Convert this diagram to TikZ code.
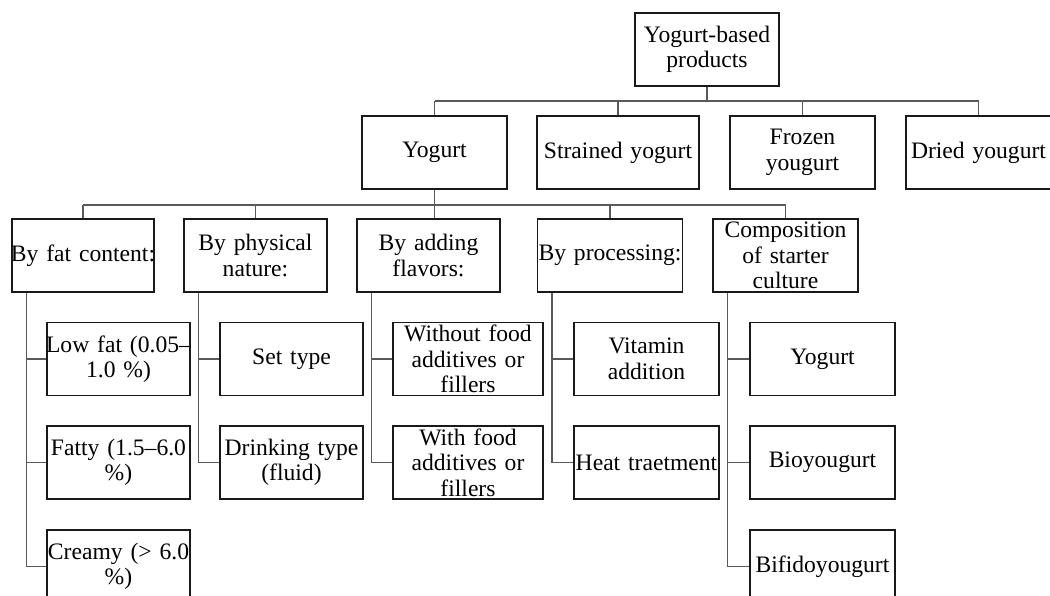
\documentclass[tikz,border=0pt]{standalone}
\usepackage{fontspec}
\setmainfont{Liberation Serif}
\newcommand\cln[1]{\makebox[\linewidth]{#1}}
\tikzset{
  box/.style={draw=black!90, line width=1.1pt, inner sep=0pt, minimum height=73pt,
    align=center, text width=#1pt, font=\fontsize{23.6}{25.5}\selectfont},
  box/.default=145,
  conn/.style={draw=black!65, line width=1.4pt},
}
\begin{document}
\begin{tikzpicture}[x=1pt,y=-1pt]
\useasboundingbox (0,0) rectangle (1050,596);
\clip (0,0) rectangle (1050,596);
% level 0
\node[box=144] (root) at (707,49.5) {\cln{Yogurt-based}\\\cln{products}};
% level 1
\node[box=145] (yog) at (434.5,152.5) {\cln{Yogurt}};
\node[box=162] (str) at (618,152.5) {\cln{Strained yogurt}};
\node[box=145] (frz) at (802.5,152.5) {\cln{Frozen}\\\cln{yougurt}};
\node[box=145] (dry) at (978.5,152.5) {\cln{Dried yougurt}};
% level 2
\node[box=142] (fat) at (83,255.5) {\cln{By fat content:}};
\node[box=143] (phy) at (255.5,255.5) {\cln{By physical}\\\cln{nature:}};
\node[box=143] (flv) at (428.5,255.5) {\cln{By adding}\\\cln{flavors:}};
\node[box=145] (prc) at (610,255.5) {\cln{By processing:}};
\node[box=145] (cmp) at (785.5,255.5) {\cln{Composition}\\\cln{of starter}\\\cln{culture}};
% leaves
\node[box=143] (lf) at (118.5,359) {\cln{Low fat (0.05–}\\\cln{1.0 \%)}};
\node[box=143] (fa) at (118.5,462.5) {\cln{Fatty (1.5–6.0}\\\cln{\%)}};
\node[box=143] (cr) at (118.5,566.5) {\cln{Creamy (> 6.0}\\\cln{\%)}};
\node[box=143] (st) at (291.5,359) {\cln{Set type}};
\node[box=143] (dk) at (291.5,462.5) {\cln{Drinking type}\\\cln{(fluid)}};
\node[box=150] (wo) at (468,359) {\cln{Without food}\\\cln{additives or}\\\cln{fillers}};
\node[box=150] (wi) at (468,462.5) {\cln{With food}\\\cln{additives or}\\\cln{fillers}};
\node[box=145] (vit) at (646.5,359) {\cln{Vitamin}\\\cln{addition}};
\node[box=145] (ht) at (646.5,462.5) {\cln{Heat traetment}};
\node[box=145] (y2) at (822.5,359) {\cln{Yogurt}};
\node[box=145] (bio) at (822.5,462.5) {\cln{Bioyougurt}};
\node[box=145] (bif) at (822.5,566.5) {\cln{Bifidoyougurt}};
% top bus
\coordinate (b1) at (707,101);
\draw[conn] (root.south) -- (b1);
\draw[conn] (yog.north |- b1) -- (dry.north |- b1);
\foreach \n in {yog,str,frz,dry} \draw[conn] (\n.north) -- (\n.north |- b1);
% middle bus
\coordinate (b2) at (434,205);
\draw[conn] (yog.south) -- (yog.south |- flv.north);
\draw[conn] (fat.north |- b2) -- (cmp.north |- b2);
\foreach \n in {fat,phy,prc,cmp} \draw[conn] (\n.north) -- (\n.north |- b2);
% leaf connectors
\coordinate (vf) at ([xshift=15pt]fat.south west);
\coordinate (vp) at ([xshift=15pt]phy.south west);
\coordinate (vl) at ([xshift=15pt]flv.south west);
\coordinate (vr) at ([xshift=15pt]prc.south west);
\coordinate (vc) at ([xshift=15pt]cmp.south west);
\draw[conn] (vf) |- (cr.west);
\draw[conn] (lf.west) -- (lf.west -| vf);
\draw[conn] (fa.west) -- (fa.west -| vf);
\draw[conn] (vp) |- (dk.west);
\draw[conn] (st.west) -- (st.west -| vp);
\draw[conn] (vl) |- (wi.west);
\draw[conn] (wo.west) -- (wo.west -| vl);
\draw[conn] (vr) |- (ht.west);
\draw[conn] (vit.west) -- (vit.west -| vr);
\draw[conn] (vc) |- (bif.west);
\draw[conn] (y2.west) -- (y2.west -| vc);
\draw[conn] (bio.west) -- (bio.west -| vc);
\end{tikzpicture}
\end{document}
